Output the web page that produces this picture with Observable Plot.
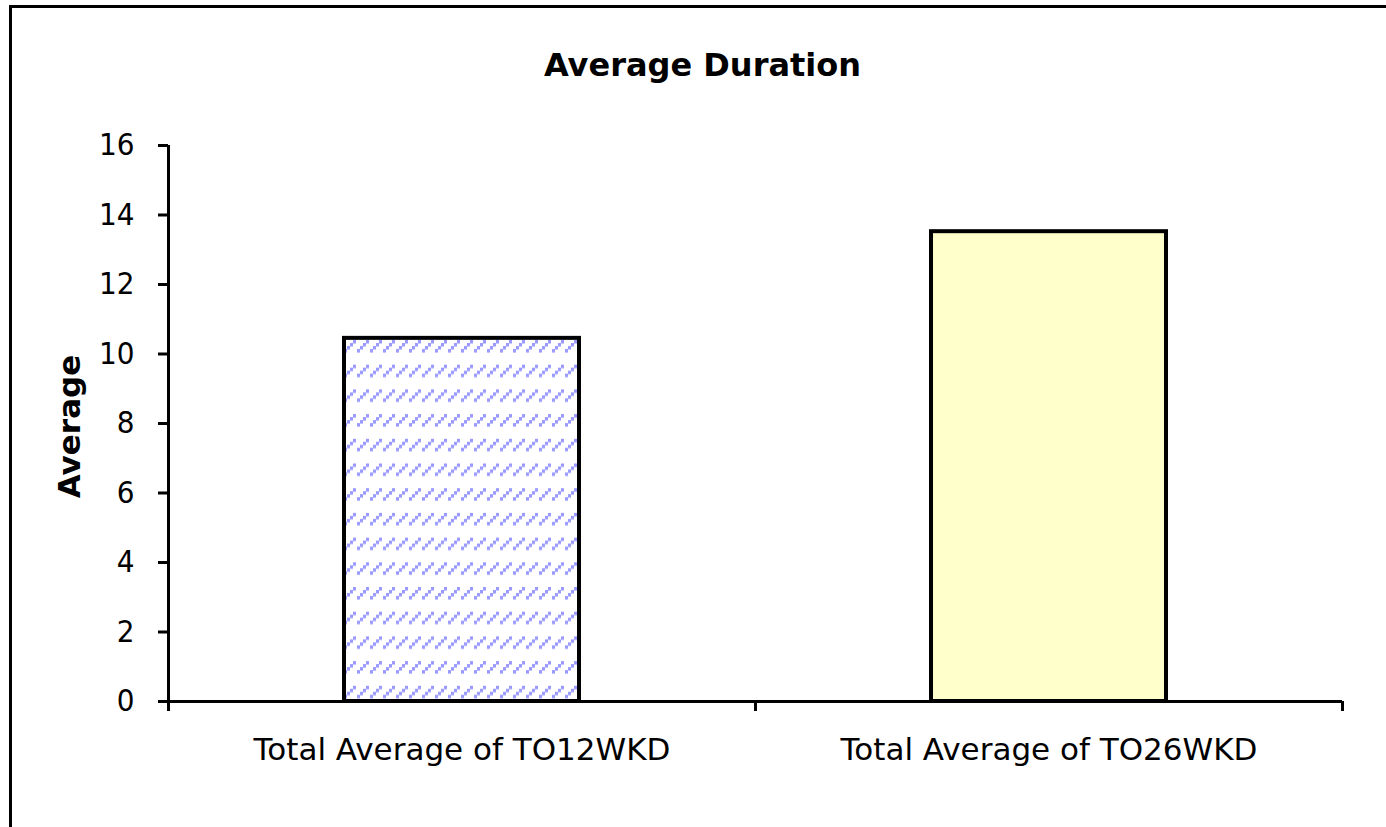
<!DOCTYPE html>
<html>
<head>
<meta charset="utf-8">
<script src="https://cdn.jsdelivr.net/npm/d3@7"></script>
<script src="https://cdn.jsdelivr.net/npm/@observablehq/plot@0.6"></script>
<style>
  html, body { margin: 0; padding: 0; background: #fff; overflow: hidden; }
  #wrap { position: relative; width: 1386px; height: 827px; }
  #border { position: absolute; left: 9px; top: 5px; width: 1500px; height: 1000px;
            border-left: 3px solid #000; border-top: 3px solid #000; pointer-events: none; }
</style>
</head>
<body>
<div id="wrap"><div id="border"></div></div>
<script>
const title = "Average Duration";
const yLabel = "Average";
const categories = ["Total Average of TO12WKD", "Total Average of TO26WKD"];
const values = [10.45, 13.52];
const fills = ["url(#hatch)", "#FFFFCC"];
const yTicks = [0, 2, 4, 6, 8, 10, 12, 14, 16];

const data = categories.map((c, i) => ({cat: c, value: values[i], fill: fills[i]}));

const W = 1386, H = 827, ML = 168, MR = 44, MT = 145, MB = 126;
const bw = (W - ML - MR) / categories.length;
const barInset = (bw - 235) / 2;

const chart = Plot.plot({
  width: W, height: H,
  marginLeft: ML, marginRight: MR, marginTop: MT, marginBottom: MB,
  style: {fontFamily: "DejaVu Sans", background: "transparent", color: "#000"},
  x: {domain: categories, padding: 0, axis: null},
  y: {domain: [0, d3.max(yTicks)], axis: null},
  color: {type: "identity"},
  marks: [
    Plot.barY(data, {x: "cat", y: "value", fill: "fill", stroke: "#000", strokeWidth: 4,
      insetLeft: barInset, insetRight: barInset}),
    Plot.ruleY([0], {stroke: "#000", strokeWidth: 3}),
    Plot.ruleX([categories[0]], {y1: 0, y2: d3.max(yTicks), dx: -bw / 2, stroke: "#000", strokeWidth: 3}),
    Plot.axisY(yTicks, {tickSize: 10, tickPadding: 24, fontSize: 31, strokeWidth: 3, label: null,
      fontFamily: "'Liberation Sans Narrow', 'DejaVu Sans Condensed', 'DejaVu Sans'"}),
    Plot.axisX({tickSize: 10, text: null, dx: -bw / 2, strokeWidth: 3, label: null}),
    Plot.axisX([categories[categories.length - 1]], {tickSize: 10, text: null, dx: bw / 2, strokeWidth: 3, label: null}),
    Plot.axisX({tickSize: 0, tickPadding: 36, fontSize: 31, label: null}),
    Plot.text([title], {frameAnchor: "top", dx: -53, dy: -80, fontSize: 32, fontWeight: "bold", lineAnchor: "middle"}),
    Plot.text([yLabel], {frameAnchor: "left", textAnchor: "middle", rotate: -90, dx: -98, dy: 3, fontSize: 31, fontWeight: "bold"})
  ]
});

// hatch pattern for the first bar
const svg = d3.select(chart);
const defs = svg.insert("defs", ":first-child");
const pat = defs.append("pattern")
  .attr("id", "hatch")
  .attr("patternUnits", "userSpaceOnUse")
  .attr("width", 13).attr("height", 24.7)
  .attr("patternTransform", "translate(344,340)");
pat.append("rect").attr("width", 13).attr("height", 24.7).attr("fill", "#fff");
[[0, 9], [3, 6], [6, 3], [9, 0]].forEach(([px, py]) => {
  pat.append("rect").attr("x", px).attr("y", py).attr("width", 3).attr("height", 3.5).attr("fill", "#9999FF");
});

chart.style.position = "absolute";
chart.style.left = "0px";
chart.style.top = "0px";
document.getElementById("wrap").prepend(chart);
</script>
</body>
</html>
